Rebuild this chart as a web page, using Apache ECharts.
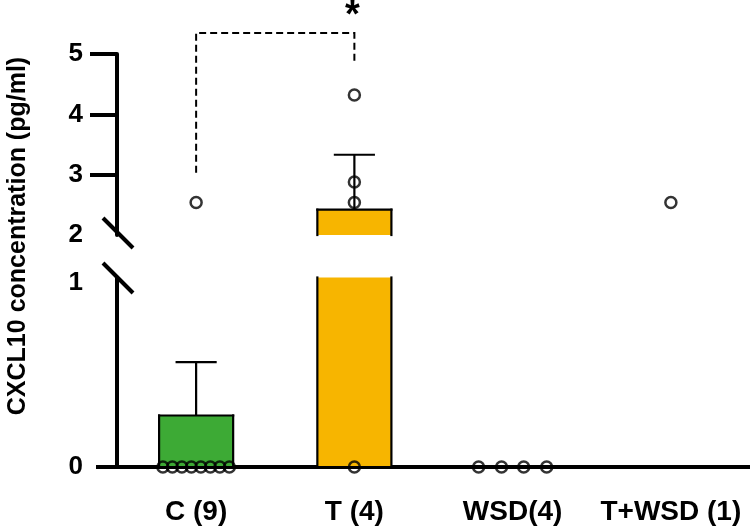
<!DOCTYPE html>
<html><head><meta charset="utf-8">
<script src="https://cdn.jsdelivr.net/npm/echarts@6/dist/echarts.min.js"></script>
<style>html,body{margin:0;padding:0;background:#fff}#c{width:750px;height:530px}</style>
</head><body><div id="c"></div>
<script>
// ---- data ----
const categories = ['C (9)', 'T (4)', 'WSD(4)', 'T+WSD (1)'];
const barMeans = [0.28, 2.42, 0, null];
const barSems  = [0.29, 0.91, 0, null];
const barColors = ['#3DAA35', '#F7B500', '#3DAA35', '#F7B500'];
const pointsC = [0, 0, 0, 0, 0, 0, 0, 0, 2.54];
const jitterC = [-0.21, -0.15, -0.09, -0.03, 0.03, 0.09, 0.15, 0.21, 0];
const pointsT = [0, 2.54, 2.88, 4.32];
const jitterT = [0, 0, 0, 0];
const pointsWSD = [0, 0, 0, 0];
const jitterWSD = [-0.215, -0.07, 0.07, 0.215];
const pointsTWSD = [2.54];
const jitterTWSD = [0];
const upperLabels = [2, 3, 4, 5];
const upperTicks = [3, 4, 5];
const lowerLabels = [0, 1];
const lowerTicks = [0];
const bracket = [[0, 1, 3.03, 5.35, 4.84, 5.62]]; // from, to, leftY, topY, rightY, starY

// ---- build ----
const FONT = 'Liberation Sans, Arial, sans-serif';
const BAR_RATIO = 0.468, CAP_RATIO = 0.26;
const barData = [];
barMeans.forEach((m, i) => { if (m !== null) barData.push([i, m, i]); });
const errData = [];
barMeans.forEach((m, i) => { if (m !== null) errData.push([i, m, barSems[i]]); });
const groups = [[pointsC, jitterC, 0], [pointsT, jitterT, 1], [pointsWSD, jitterWSD, 2], [pointsTWSD, jitterTWSD, 3]];
const upperPts = [], lowerPts = [];
groups.forEach(([vals, jit, ci]) => vals.forEach((v, k) => {
  (v >= 2 ? upperPts : lowerPts).push([ci + jit[k], v]);
}));

function barRender(params, api) {
  const cs = params.coordSys;
  const c = api.value(0), v = api.value(1), col = barColors[api.value(2)];
  const top = api.coord([c, v]), base = api.coord([c, 0]);
  const w = api.size([1, 0])[0] * BAR_RATIO;
  const yT = Math.max(top[1], cs.y), yB = Math.min(base[1], cs.y + cs.height);
  if (yB - yT <= 0.5) return null;
  const x1 = top[0] - w / 2, x2 = top[0] + w / 2;
  const topClip = top[1] < cs.y - 0.5, botClip = base[1] > cs.y + cs.height + 0.5;
  const ls = { stroke: '#000', lineWidth: 2.2, lineCap: 'square' };
  const children = [{ type: 'rect', shape: { x: x1, y: yT, width: w, height: yB - yT }, style: { fill: col } }];
  children.push({ type: 'line', shape: { x1: x1, y1: yT, x2: x1, y2: yB }, style: ls });
  children.push({ type: 'line', shape: { x1: x2, y1: yT, x2: x2, y2: yB }, style: ls });
  if (!topClip) children.push({ type: 'line', shape: { x1: x1, y1: yT, x2: x2, y2: yT }, style: ls });
  if (!botClip) children.push({ type: 'line', shape: { x1: x1, y1: yB, x2: x2, y2: yB }, style: ls });
  return { type: 'group', children };
}
function errRender(params, api) {
  const cs = params.coordSys;
  const c = api.value(0), m = api.value(1), s = api.value(2);
  if (!(s > 0)) return null;
  const p0 = api.coord([c, m]), p1 = api.coord([c, m + s]);
  const ya = Math.min(p0[1], cs.y + cs.height), yb = Math.max(p1[1], cs.y);
  if (ya <= yb) return null;
  const capW = api.size([1, 0])[0] * CAP_RATIO;
  const ls = { stroke: '#000', lineWidth: 2.2 };
  const children = [{ type: 'line', shape: { x1: p0[0], y1: ya, x2: p0[0], y2: yb }, style: ls }];
  if (p1[1] >= cs.y && p1[1] <= cs.y + cs.height)
    children.push({ type: 'line', shape: { x1: p0[0] - capW / 2, y1: p1[1], x2: p0[0] + capW / 2, y2: p1[1] }, style: ls });
  return { type: 'group', children };
}
function bracketRender(params, api) {
  const a = api.coord([api.value(0), api.value(2)]);
  const t1 = api.coord([api.value(0), api.value(3)]);
  const t2 = api.coord([api.value(1), api.value(3)]);
  const b = api.coord([api.value(1), api.value(4)]);
  const s = api.coord([(api.value(0) + api.value(1)) / 2, api.value(5)]);
  return { type: 'group', children: [
    { type: 'polyline', shape: { points: [a, t1, t2, b] }, style: { stroke: '#000', lineWidth: 2, lineDash: [7, 4], fill: null } },
    { type: 'text', x: s[0] - 2, y: s[1], style: { text: '*', fill: '#000', font: 'bold 38px ' + FONT, align: 'center', verticalAlign: 'middle' } }
  ]};
}

const axisLineStyle = { show: true, lineStyle: { color: '#000', width: 4 }, onZero: false };
const yLabel = { fontSize: 26, fontWeight: 'bold', color: '#000', fontFamily: FONT, margin: 34 };
const scatterStyle = { color: 'rgba(0,0,0,0)', borderColor: '#000', borderWidth: 2.5 };

const option = {
  animation: false,
  backgroundColor: '#fff',
  grid: [
    { left: 117, right: 0, top: 54, height: 181 },
    { left: 117, right: 0, top: 277.5, height: 189.5 }
  ],
  xAxis: [
    { type: 'category', gridIndex: 0, data: categories, show: false },
    { type: 'category', gridIndex: 1, data: categories,
      axisLine: axisLineStyle,
      axisTick: { alignWithLabel: true, length: 21, lineStyle: { color: '#000', width: 4 } },
      axisLabel: { interval: 0, fontSize: 28, fontWeight: 'bold', color: '#000', fontFamily: FONT, margin: 31 } },
    { type: 'value', gridIndex: 0, min: -0.5, max: 3.5, show: false },
    { type: 'value', gridIndex: 1, min: -0.5, max: 3.5, show: false }
  ],
  yAxis: [
    { type: 'value', gridIndex: 0, min: 2, max: 5, interval: 1, splitLine: { show: false },
      axisLine: axisLineStyle,
      axisTick: { show: true, customValues: upperTicks, length: 27, lineStyle: { color: '#000', width: 4 } },
      axisLabel: Object.assign({ customValues: upperLabels }, yLabel) },
    { type: 'value', gridIndex: 1, min: 0, max: 1.03, splitLine: { show: false },
      axisLine: axisLineStyle,
      axisTick: { show: true, customValues: lowerTicks, length: 21, lineStyle: { color: '#000', width: 4 } },
      axisLabel: Object.assign({ customValues: lowerLabels }, yLabel) }
  ],
  series: [
    { type: 'custom', xAxisIndex: 1, yAxisIndex: 1, data: barData, renderItem: barRender, encode: { x: 0, y: 1 }, z: 2, silent: true },
    { type: 'custom', xAxisIndex: 0, yAxisIndex: 0, data: barData, renderItem: barRender, encode: { x: 0, y: 1 }, z: 2, silent: true },
    { type: 'custom', xAxisIndex: 1, yAxisIndex: 1, data: errData, renderItem: errRender, encode: { x: 0, y: 1 }, z: 3, silent: true },
    { type: 'custom', xAxisIndex: 0, yAxisIndex: 0, data: errData, renderItem: errRender, encode: { x: 0, y: 1 }, z: 3, silent: true },
    { type: 'scatter', xAxisIndex: 2, yAxisIndex: 0, data: upperPts, symbol: 'circle', symbolSize: 11, itemStyle: scatterStyle, clip: false, z: 4, silent: true },
    { type: 'scatter', xAxisIndex: 3, yAxisIndex: 1, data: lowerPts, symbol: 'circle', symbolSize: 11, itemStyle: scatterStyle, clip: false, z: 4, silent: true },
    { type: 'custom', xAxisIndex: 0, yAxisIndex: 0, data: bracket, renderItem: bracketRender, encode: { x: 0, y: 2 }, clip: false, z: 5, silent: true }
  ],
  graphic: [
    { type: 'line', shape: { x1: 103, y1: 218, x2: 133, y2: 248 }, style: { stroke: '#000', lineWidth: 4 }, z: 10 },
    { type: 'line', shape: { x1: 103, y1: 263, x2: 133, y2: 293 }, style: { stroke: '#000', lineWidth: 4 }, z: 10 },
    { type: 'text', x: 18, y: 236, rotation: Math.PI / 2,
      style: { text: 'CXCL10 concentration (pg/ml)', fill: '#000', font: 'bold 25px ' + FONT, align: 'center', verticalAlign: 'middle' } }
  ]
};
const chart = echarts.init(document.getElementById('c'), null, { renderer: 'canvas' });
chart.setOption(option);
</script>
</body></html>
